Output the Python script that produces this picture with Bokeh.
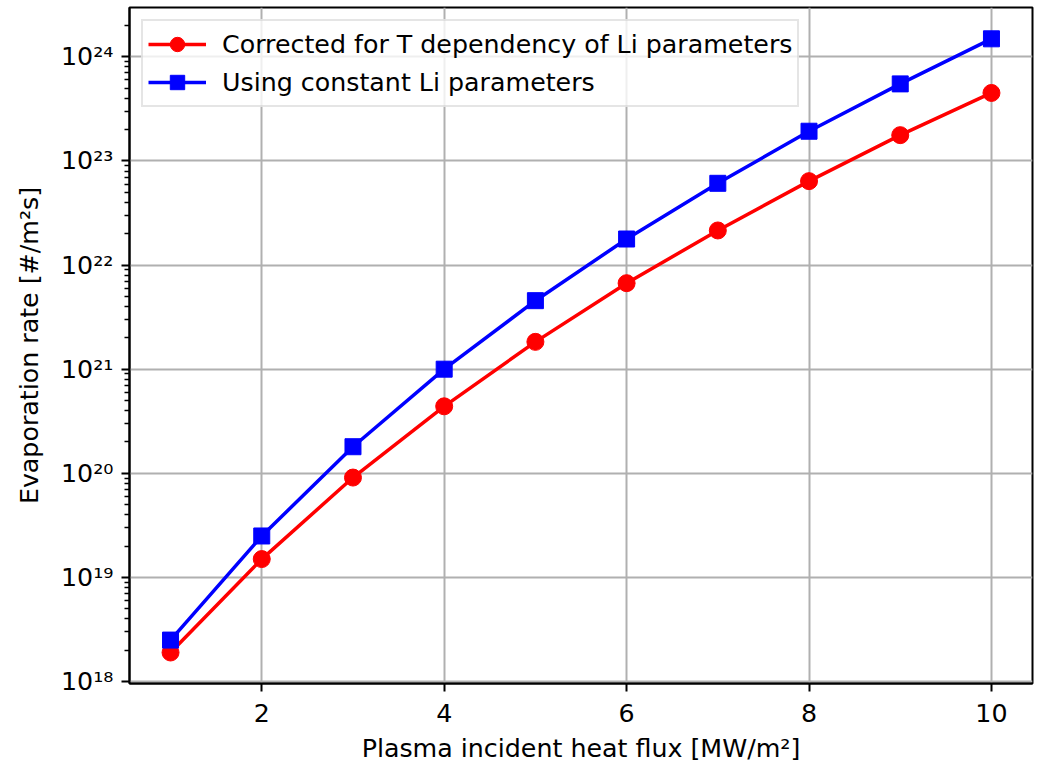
from bokeh.plotting import figure
from bokeh.models import Range1d, FixedTicker, CustomJSTickFormatter, Legend, LegendItem
from bokeh.embed import file_html
from bokeh.resources import INLINE

# ---- data ----
heat_flux = [1, 2, 3, 4, 5, 6, 7, 8, 9, 10]
evap_corrected = [1.9e18, 1.5e19, 9.1e19, 4.4e20, 1.83e21, 6.7e21, 2.15e22, 6.4e22, 1.77e23, 4.5e23]
evap_constant = [2.5e18, 2.5e19, 1.8e20, 1.0e21, 4.55e21, 1.78e22, 6.1e22, 1.93e23, 5.5e23, 1.49e24]
label_corrected = "Corrected for T dependency of Li parameters"
label_constant = "Using constant Li parameters"
x_ticks = [2, 4, 6, 8, 10]
y_exponents = [18, 19, 20, 21, 22, 23, 24]
x_title = "Plasma incident heat flux [MW/m\u00b2]"
y_title = "Evaporation rate [#/m\u00b2s]"

FONT = "DejaVu Sans"
FS = "25.3px"

p = figure(width=1038, height=765, y_axis_type="log",
           x_range=Range1d(0.55, 10.45),
           y_range=Range1d(10 ** 17.981, 10 ** 24.474),
           output_backend="svg", toolbar_location=None,
           min_border_left=129, min_border_right=6, min_border_top=7, min_border_bottom=82)

p.background_fill_color = "white"
p.border_fill_color = "white"
p.outline_line_color = "black"
p.outline_line_width = 2

# ticks
xt = FixedTicker(ticks=x_ticks, minor_ticks=[])
major_y = [10.0 ** e for e in y_exponents]
minor_y = [m * 10.0 ** e for e in range(17, 25) for m in range(2, 10)]
yt = FixedTicker(ticks=major_y, minor_ticks=minor_y)
p.xaxis.ticker = xt
p.yaxis.ticker = yt
p.xgrid.ticker = xt
p.ygrid.ticker = yt

p.yaxis.formatter = CustomJSTickFormatter(code="""
const sup = {"0":"\u2070","1":"\u00b9","2":"\u00b2","3":"\u00b3","4":"\u2074","5":"\u2075","6":"\u2076","7":"\u2077","8":"\u2078","9":"\u2079","-":"\u207b"};
const e = Math.round(Math.log10(tick));
return "10" + String(e).split("").map(c => sup[c]).join("");
""")

for ax in (p.xaxis[0], p.yaxis[0]):
    ax.axis_line_color = "black"
    ax.axis_line_width = 2
    ax.major_tick_line_color = "black"
    ax.major_tick_line_width = 2
    ax.major_tick_out = 8
    ax.major_tick_in = 0
    ax.minor_tick_line_color = "black"
    ax.minor_tick_line_width = 1.5
    ax.minor_tick_out = 5
    ax.minor_tick_in = 0
    ax.major_label_text_font = FONT
    ax.major_label_text_font_size = FS
    ax.major_label_text_color = "black"
    ax.axis_label_text_font = FONT
    ax.axis_label_text_font_size = FS
    ax.axis_label_text_font_style = "normal"
    ax.axis_label_text_color = "black"

p.xaxis.axis_label = x_title
p.yaxis.axis_label = y_title
p.xaxis.major_label_standoff = 12
p.yaxis.major_label_standoff = 8
p.xaxis.axis_label_standoff = 9
p.yaxis.axis_label_standoff = 14

for g in (p.xgrid[0], p.ygrid[0]):
    g.grid_line_color = "#b0b0b0"
    g.grid_line_width = 2

l1 = p.line(heat_flux, evap_corrected, line_color="red", line_width=3.5)
s1 = p.scatter(heat_flux, evap_corrected, marker="circle", size=17,
               fill_color="red", line_color="red")
l2 = p.line(heat_flux, evap_constant, line_color="blue", line_width=3.5)
s2 = p.scatter(heat_flux, evap_constant, marker="square", size=16,
               fill_color="blue", line_color="blue")

legend = Legend(items=[LegendItem(label=label_corrected, renderers=[l1, s1]),
                       LegendItem(label=label_constant, renderers=[l2, s2])],
                location="top_left")
legend.margin = 12
legend.padding = 5
legend.spacing = 2
legend.glyph_height = 36
legend.glyph_width = 58
legend.label_height = 36
legend.label_standoff = 16
legend.label_text_font = FONT
legend.label_text_font_size = FS
legend.label_text_color = "black"
legend.background_fill_color = "white"
legend.background_fill_alpha = 0.8
legend.border_line_color = "#cccccc"
legend.border_line_width = 2
p.add_layout(legend, "center")

open("out.html", "w").write(file_html(p, INLINE))
